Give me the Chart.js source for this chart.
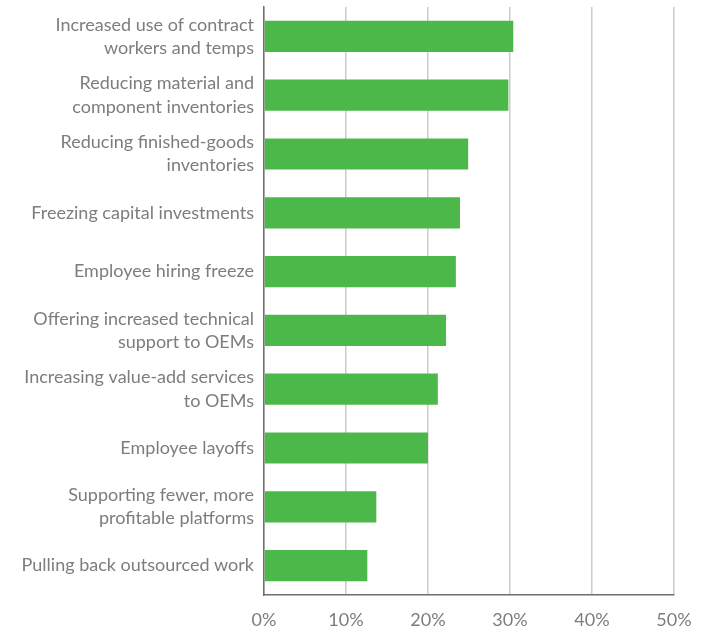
<!DOCTYPE html>
<html>
<head>
<meta charset="utf-8">
<script src="https://cdn.jsdelivr.net/npm/chart.js@4"></script>
<style>
  html, body { margin: 0; padding: 0; background: #fff; }
  #wrap { width: 709px; height: 631px; }
</style>
</head>
<body>
<div id="wrap"><canvas id="graph"></canvas></div>
<script>
const categories = [
  ['Increased use of contract', 'workers and temps'],
  ['Reducing material and', 'component inventories'],
  ['Reducing finished-goods', 'inventories'],
  'Freezing capital investments',
  'Employee hiring freeze',
  ['Offering increased technical', 'support to OEMs'],
  ['Increasing value-add services', 'to OEMs'],
  'Employee layoffs',
  ['Supporting fewer, more', 'profitable platforms'],
  'Pulling back outsourced work'
];
const shares = [30.4, 29.8, 24.9, 23.9, 23.4, 22.2, 21.2, 20.0, 13.7, 12.6];
const tickValues = [0, 10, 20, 30, 40, 50];

const textGrey = '#7d7d7d';
const fontFamily = 'Lato, "Open Sans", sans-serif';

let canvas = document.querySelector('#graph').getContext('2d');

new Chart(canvas, {
  type: 'bar',
  data: {
    labels: categories,
    datasets: [{
      data: shares,
      backgroundColor: '#4cb84a',
      borderWidth: 0,
      categoryPercentage: 1,
      barPercentage: 0.53
    }]
  },
  options: {
    indexAxis: 'y',
    responsive: true,
    maintainAspectRatio: false,
    animation: false,
    layout: {
      padding: { top: 7, right: 35, left: 0, bottom: 0 }
    },
    plugins: {
      legend: { display: false },
      tooltip: { enabled: false }
    },
    scales: {
      x: {
        min: 0,
        max: 50,
        afterBuildTicks: scale => {
          scale.ticks = tickValues.map(v => ({ value: v }));
        },
        afterFit: scale => {
          scale.height = 36;
          scale.paddingLeft = 0;
          scale.paddingRight = 0;
        },
        border: { color: '#6e6e6e', width: 1.5 },
        grid: { color: '#cccccc', lineWidth: 1.5, drawTicks: false },
        ticks: {
          padding: 14,
          color: textGrey,
          font: { family: fontFamily, size: 18 },
          callback: v => v + '%'
        }
      },
      y: {
        afterFit: scale => {
          scale.width = 264;
          scale.paddingTop = 0;
          scale.paddingBottom = 0;
        },
        border: { color: '#6e6e6e', width: 1.5 },
        grid: { display: false, drawTicks: false },
        ticks: {
          padding: 10,
          color: textGrey,
          font: { family: fontFamily, size: 18, lineHeight: 1.28 }
        }
      }
    }
  }
});
</script>
</body>
</html>
